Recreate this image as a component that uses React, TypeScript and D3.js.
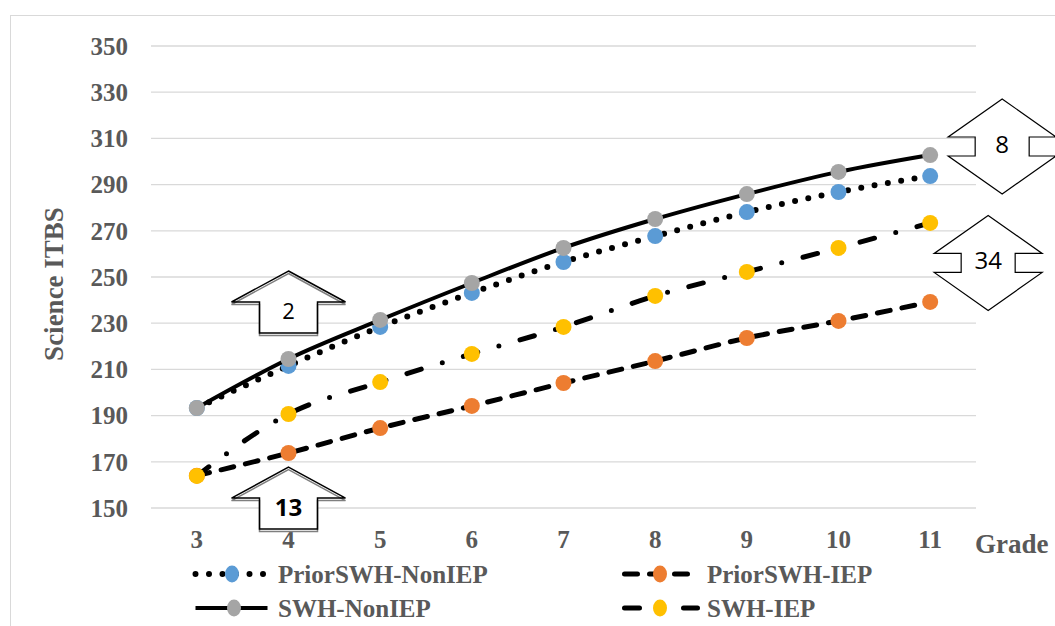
import React from 'react';
import * as d3 from 'd3';

const grades = ['3', '4', '5', '6', '7', '8', '9', '10', '11'];
const priorNonIEP = [193.3, 211.5, 228.4, 243.1, 256.5, 267.7, 278.1, 286.8, 293.7];
const priorIEP = [164.0, 173.8, 184.6, 194.2, 204.1, 213.6, 223.6, 231.0, 239.2];
const swhNonIEP = [193.3, 214.5, 231.4, 247.4, 262.6, 275.1, 285.9, 295.5, 302.8];
const swhIEP = [163.9, 190.7, 204.5, 216.7, 228.4, 241.8, 252.2, 262.6, 273.4];
const yTicks = [150, 170, 190, 210, 230, 250, 270, 290, 310, 330, 350];
const seriesNames = ['PriorSWH-NonIEP', 'PriorSWH-IEP', 'SWH-NonIEP', 'SWH-IEP'];
const seriesColors = ['#5B9BD5', '#ED7D31', '#A5A5A5', '#FFC000'];
const upArrowNotes = [
  { grade: '4', value: 252.6, label: '2', bold: false, size: 22 },
  { grade: '4', value: 167.7, label: '13', bold: true, size: 24 },
];
const upDownNotes = [
  { grade: '11', value: 306.5, label: '8' },
  { grade: '11', value: 256.1, label: '34' },
];

const W = 1055;
const H = 626;
const serif = '"Liberation Serif", "Times New Roman", serif';
const sans = '"Open Sans", "Liberation Sans", sans-serif';
const txtColor = '#595959';

const styles = [
  { width: 6, dash: '0 13.5', cap: 'round' },
  { width: 5, dash: '13 12', cap: 'round' },
  { width: 4, dash: null, cap: 'butt' },
  { width: 5, dash: '15 22 0 22', cap: 'round' },
];

export default function App() {
  const x = d3.scaleBand<string>().domain(grades).range([151, 976]);
  const cx = (g: string) => (x(g) as number) + x.bandwidth() / 2;
  const y = d3.scaleLinear().domain([150, 350]).range([508, 46]);
  const series = [priorNonIEP, priorIEP, swhNonIEP, swhIEP];
  const line = d3
    .line<number>()
    .x((_, i) => cx(grades[i]))
    .y((d) => y(d))
    .curve(d3.curveMonotoneX);

  const upPath = (tx: number, ty: number) => {
    const p = d3.path();
    p.moveTo(tx, ty);
    p.lineTo(tx + 57, ty + 31);
    p.lineTo(tx + 29, ty + 31);
    p.lineTo(tx + 29, ty + 62);
    p.lineTo(tx - 29, ty + 62);
    p.lineTo(tx - 29, ty + 31);
    p.lineTo(tx - 57, ty + 31);
    p.closePath();
    return p.toString();
  };
  const udPath = (mx: number, my: number) => {
    const p = d3.path();
    p.moveTo(mx, my - 47.5);
    p.lineTo(mx + 54, my - 9.5);
    p.lineTo(mx + 27, my - 9.5);
    p.lineTo(mx + 27, my + 9.5);
    p.lineTo(mx + 54, my + 9.5);
    p.lineTo(mx, my + 47.5);
    p.lineTo(mx - 54, my + 9.5);
    p.lineTo(mx - 27, my + 9.5);
    p.lineTo(mx - 27, my - 9.5);
    p.lineTo(mx - 54, my - 9.5);
    p.closePath();
    return p.toString();
  };

  const legendItems = [
    { i: 0, x0: 193, x1: 268, mx: 232, y: 574, tx: 278 },
    { i: 1, x0: 622, x1: 700, mx: 660, y: 574, tx: 707 },
    { i: 2, x0: 193, x1: 270, mx: 234, y: 608, tx: 278 },
    { i: 3, x0: 622, x1: 700, mx: 660, y: 608, tx: 707 },
  ];

  return (
    <svg
      width={W}
      height={H}
      style={{ position: 'absolute', left: 0, top: 0, background: '#fff' }}
    >
      <rect x={0} y={0} width={W} height={H} fill="#fff" />
      <rect x={10.5} y={15.5} width={1200} height={800} fill="none" stroke="#d9d9d9" strokeWidth={1} />

      {yTicks.map((t) => (
        <g key={t}>
          <line x1={151} x2={976} y1={y(t)} y2={y(t)} stroke="#d9d9d9" strokeWidth={1.3} />
          <text
            x={128}
            y={y(t)}
            dy="0.35em"
            textAnchor="end"
            fontFamily={serif}
            fontWeight="bold"
            fontSize={25}
            fill={txtColor}
          >
            {t}
          </text>
        </g>
      ))}

      {grades.map((g) => (
        <text
          key={g}
          x={cx(g)}
          y={548}
          textAnchor="middle"
          fontFamily={serif}
          fontWeight="bold"
          fontSize={25}
          fill={txtColor}
        >
          {g}
        </text>
      ))}
      <text x={975} y={553} fontFamily={serif} fontWeight="bold" fontSize={27} fill={txtColor}>
        Grade
      </text>
      <text
        transform="translate(63,284) rotate(-90)"
        textAnchor="middle"
        fontFamily={serif}
        fontWeight="bold"
        fontSize={27}
        fill={txtColor}
      >
        Science ITBS
      </text>

      {series.map((s, si) => (
        <g key={si}>
          <path
            d={line(s) as string}
            fill="none"
            stroke="#000"
            strokeWidth={styles[si].width}
            strokeDasharray={styles[si].dash ?? undefined}
            strokeLinecap={styles[si].cap as any}
          />
          {s.map((v, i) => (
            <circle key={i} cx={cx(grades[i])} cy={y(v)} r={8} fill={seriesColors[si]} />
          ))}
        </g>
      ))}

      {upArrowNotes.map((a, k) => {
        const tx = cx(a.grade);
        const ty = y(a.value);
        return (
          <g key={k}>
            <path d={upPath(tx, ty + 2.5)} fill="#fff" stroke="#7f7f7f" strokeWidth={1.5} />
            <path d={upPath(tx, ty)} fill="none" stroke="#000" strokeWidth={1.5} />
            <text
              x={tx}
              y={ty + 40}
              dy="0.35em"
              textAnchor="middle"
              fontFamily={sans}
              fontWeight={a.bold ? 'bold' : 'normal'}
              fontSize={a.size}
              fill="#000"
            >
              {a.label}
            </text>
          </g>
        );
      })}

      {upDownNotes.map((a, k) => {
        const mx = a.label === '8' ? cx(a.grade) + 72 : cx(a.grade) + 58;
        const my = y(a.value);
        return (
          <g key={k}>
            <path d={udPath(mx, my)} fill="#fff" stroke="#000" strokeWidth={1.2} />
            <text
              x={mx}
              y={my - 2}
              dy="0.35em"
              textAnchor="middle"
              fontFamily={sans}
              fontSize={24}
              fill="#000"
            >
              {a.label}
            </text>
          </g>
        );
      })}

      {legendItems.map((it) => (
        <g key={it.i}>
          <line
            x1={it.x0 + 2.5}
            x2={it.x1 - 2.5}
            y1={it.y}
            y2={it.y}
            stroke="#000"
            strokeWidth={styles[it.i].width}
            strokeDasharray={styles[it.i].dash ?? undefined}
            strokeLinecap={styles[it.i].cap as any}
          />
          <ellipse cx={it.mx} cy={it.y} rx={7} ry={8.5} fill={seriesColors[it.i]} />
          <text
            x={it.tx}
            y={it.y}
            dy="0.35em"
            fontFamily={serif}
            fontWeight="bold"
            fontSize={25}
            fill={txtColor}
          >
            {seriesNames[it.i]}
          </text>
        </g>
      ))}
    </svg>
  );
}
